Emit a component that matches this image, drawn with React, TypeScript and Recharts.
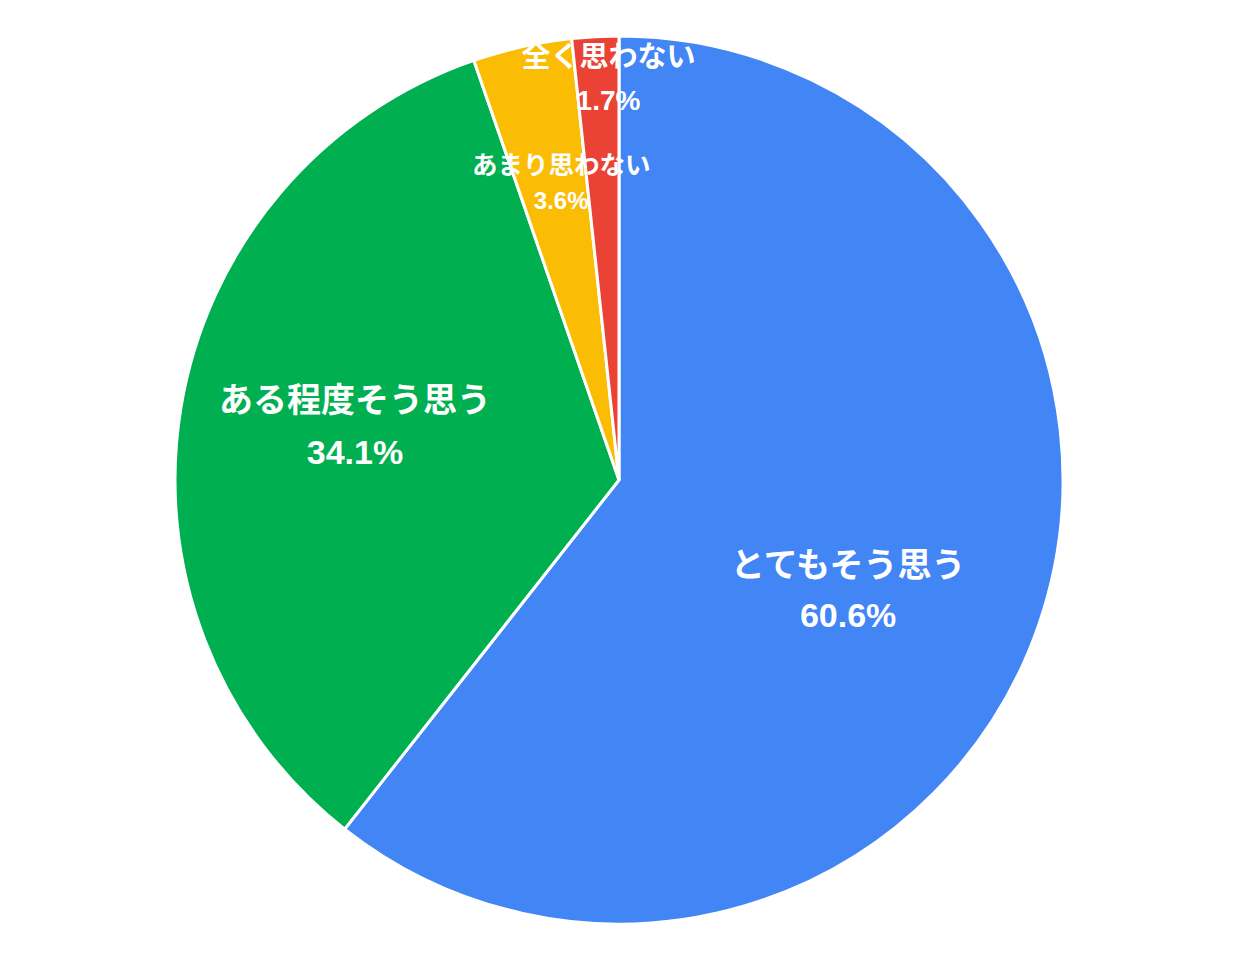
import React from "react";
import { PieChart, Pie, Cell } from "recharts";

const categories = ["とてもそう思う", "ある程度そう思う", "あまり思わない", "全く思わない"];
const values = [60.6, 34.1, 3.6, 1.7];
const percentLabels = ["60.6%", "34.1%", "3.6%", "1.7%"];
const colors = ["#4285F4", "#00AF50", "#FBBC04", "#EA4335"];

const data = categories.map((name, i) => ({ name, value: values[i], pct: percentLabels[i] }));

// label layout: radius, angle tweak (deg), name font size, pct font size, line gap
const labelLayout = [
  { r: 254, d: -6.5, fs: 34, pfs: 34, gap: 50 },
  { r: 269.5, d: -2.0, fs: 34, pfs: 34, gap: 52 },
  { r: 303, d: -1.6, fs: 25.5, pfs: 24, gap: 35 },
  { r: 401.6, d: -1.56, fs: 29, pfs: 28, gap: 43 },
];

const RAD = Math.PI / 180;
const FONT = "'Liberation Sans', Arial, 'Noto Sans CJK JP', sans-serif";

const renderLabel = (props: any) => {
  const { cx, cy, midAngle, index } = props;
  const L = labelLayout[index];
  const a = (midAngle + L.d) * RAD;
  const x = cx + L.r * Math.cos(a);
  const y = cy - L.r * Math.sin(a);
  return (
    <g>
      <text
        x={x}
        y={y - L.gap / 2}
        fill="#ffffff"
        textAnchor="middle"
        dominantBaseline="central"
        fontSize={L.fs}
        fontWeight="bold"
        fontFamily={FONT}
      >
        {data[index].name}
      </text>
      <text
        x={x}
        y={y + L.gap / 2}
        fill="#ffffff"
        textAnchor="middle"
        dominantBaseline="central"
        fontSize={L.pfs}
        fontWeight="bold"
        fontFamily={FONT}
      >
        {data[index].pct}
      </text>
    </g>
  );
};

export default function App() {
  return (
    <div style={{ position: "fixed", left: 0, top: 0, width: 1242, height: 962, background: "#ffffff" }}>
      <PieChart width={1242} height={962} margin={{ top: 0, right: 0, bottom: 0, left: 0 }}>
        <Pie
          data={data}
          dataKey="value"
          nameKey="name"
          cx={619}
          cy={480}
          outerRadius={444}
          startAngle={90}
          endAngle={-270}
          stroke="#ffffff"
          strokeWidth={3}
          label={renderLabel}
          labelLine={false}
          isAnimationActive={false}
        >
          {data.map((d, i) => (
            <Cell key={d.name} fill={colors[i]} />
          ))}
        </Pie>
      </PieChart>
    </div>
  );
}
